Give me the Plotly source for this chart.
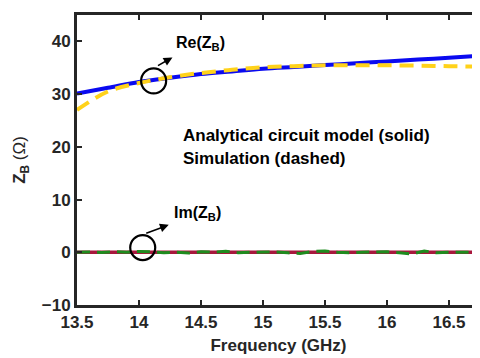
import plotly.graph_objects as go

# ---- data ----
freq_re = [13.5, 13.75, 14.0, 14.25, 14.5, 14.75, 15.0, 15.25, 15.5, 15.75, 16.0, 16.25, 16.5, 16.75]
re_model = [30.1, 31.2, 32.3, 33.1, 33.8, 34.3, 34.8, 35.15, 35.5, 35.85, 36.2, 36.55, 36.9, 37.25]
re_sim = [27.0, 30.5, 32.1, 33.2, 34.0, 34.6, 35.1, 35.3, 35.45, 35.45, 35.45, 35.4, 35.3, 35.2]

freq_im = [13.5, 13.6, 13.7, 13.8, 13.9, 14.0, 14.1, 14.2, 14.3, 14.4, 14.5, 14.6, 14.7, 14.8,
           14.9, 15.0, 15.1, 15.2, 15.3, 15.4, 15.5, 15.6, 15.7, 15.8, 15.9, 16.0, 16.1, 16.2,
           16.3, 16.4, 16.5, 16.6, 16.7, 16.8]
im_model = [0.0] * len(freq_im)
im_sim = [0.0, 0.05, -0.05, 0.1, 0.0, 0.15, 0.1, -0.1, 0.0, -0.15, 0.1, 0.0, 0.2, -0.1,
          0.0, 0.0, 0.05, -0.1, -0.25, 0.15, 0.25, 0.0, -0.1, 0.0, 0.1, 0.1, -0.1, -0.35,
          0.25, -0.1, 0.0, 0.05, 0.0, 0.0]

x_ticks = [13.5, 14, 14.5, 15, 15.5, 16, 16.5]
x_tick_labels = ["13.5", "14", "14.5", "15", "15.5", "16", "16.5"]
y_ticks = [-10, 0, 10, 20, 30, 40]

FONT = "Liberation Sans, Arial, sans-serif"
AX = "#262626"

fig = go.Figure()
fig.add_trace(go.Scatter(x=freq_im, y=im_model, mode="lines",
                         line=dict(color="#A8173D", width=3.5), showlegend=False))
fig.add_trace(go.Scatter(x=freq_im, y=im_sim, mode="lines",
                         line=dict(color="#1E8C1E", width=3, dash="13px,7px"),
                         showlegend=False))
fig.add_trace(go.Scatter(x=freq_re, y=re_model, mode="lines",
                         line=dict(color="#0A0AF0", width=4, shape="spline"), showlegend=False))
fig.add_trace(go.Scatter(x=freq_re, y=re_sim, mode="lines",
                         line=dict(color="#FFD21A", width=4, dash="14px,8px", shape="spline"),
                         showlegend=False))

# circles
for cx, cy in [(14.118, 32.5), (14.03, 0.9)]:
    fig.add_shape(type="circle", xref="x", yref="y", xsizemode="pixel", ysizemode="pixel",
                  xanchor=cx, yanchor=cy, x0=-12.5, x1=12.5, y0=-12.5, y1=12.5,
                  line=dict(color="black", width=2.2))

# arrows
fig.add_annotation(x=14.27, y=36.95, ax=-16, ay=9, xref="x", yref="y", text="",
                   showarrow=True, arrowhead=2, arrowsize=1.1, arrowwidth=1.6, arrowcolor="black")
fig.add_annotation(x=14.24, y=5.2, ax=-24, ay=9, xref="x", yref="y", text="",
                   showarrow=True, arrowhead=2, arrowsize=1.1, arrowwidth=1.6, arrowcolor="black")

# labels
fig.add_annotation(x=14.28, y=39.6, xref="x", yref="y", text="<b>Re(Z<sub>B</sub>)</b>",
                   showarrow=False, xanchor="left", yanchor="middle",
                   font=dict(family=FONT, size=16, color="black"))
fig.add_annotation(x=14.27, y=7.3, xref="x", yref="y", text="<b>Im(Z<sub>B</sub>)</b>",
                   showarrow=False, xanchor="left", yanchor="middle",
                   font=dict(family=FONT, size=16, color="black"))
fig.add_annotation(x=14.335, y=22.2, xref="x", yref="y", text="<b>Analytical circuit model (solid)</b>",
                   showarrow=False, xanchor="left", yanchor="middle",
                   font=dict(family=FONT, size=17, color="black"))
fig.add_annotation(x=14.335, y=17.7, xref="x", yref="y", text="<b>Simulation (dashed)</b>",
                   showarrow=False, xanchor="left", yanchor="middle",
                   font=dict(family=FONT, size=17, color="black"))

fig.update_layout(
    width=480, height=358,
    margin=dict(l=69, r=8, t=4, b=61),
    plot_bgcolor="white", paper_bgcolor="white",
    font=dict(family=FONT, color=AX),
)
fig.update_xaxes(range=[13.5, 16.75], tickvals=x_ticks, ticktext=x_tick_labels,
                 showgrid=False, zeroline=False, showline=True, linecolor=AX, linewidth=3,
                 mirror="ticks", ticks="inside", ticklen=5, tickwidth=2, tickcolor=AX,
                 tickfont=dict(family=FONT, size=17, color=AX, weight="bold"),
                 title=dict(text="<b>Frequency (GHz)</b>", font=dict(family=FONT, size=17, color=AX),
                            standoff=8))
fig.update_yaxes(range=[-10, 45], tickvals=y_ticks,
                 showgrid=False, zeroline=False, showline=True, linecolor=AX, linewidth=3,
                 ticks="inside", ticklen=5, tickwidth=2, tickcolor=AX,
                 tickfont=dict(family=FONT, size=17, color=AX, weight="bold"),
                 title=dict(text="<b>Z<sub>B</sub></b> (Ω)", font=dict(family=FONT, size=17, color=AX),
                            standoff=12))

fig.write_html("out.html")
